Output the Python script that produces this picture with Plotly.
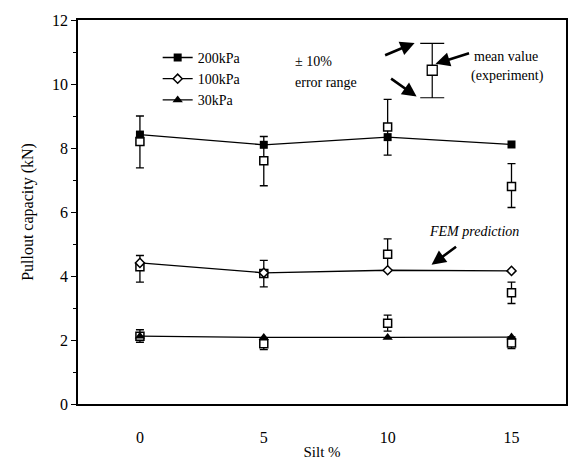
import plotly.graph_objects as go

# ---------------- data ----------------
silt = [0, 5, 10, 15]

fem_200 = [8.42, 8.10, 8.34, 8.11]
fem_100 = [4.41, 4.10, 4.18, 4.16]
fem_30 = [2.12, 2.08, 2.08, 2.09]

exp_200 = [8.20, 7.60, 8.66, 6.80]
exp_200_hi = [9.00, 8.36, 9.52, 7.51]
exp_200_lo = [7.38, 6.82, 7.78, 6.14]

exp_100 = [4.29, 4.08, 4.68, 3.48]
exp_100_hi = [4.64, 4.49, 5.16, 3.81]
exp_100_lo = [3.81, 3.66, 4.20, 3.14]

exp_30 = [2.12, 1.88, 2.52, 1.91]
exp_30_hi = [2.32, 2.04, 2.78, 2.10]
exp_30_lo = [1.93, 1.70, 2.28, 1.73]

# illustrative error bar (explanation of the symbols)
demo_x = [11.8]
demo_y = [10.43]
demo_hi = [11.27]
demo_lo = [9.57]

series_names = ["200kPa", "100kPa", "30kPa"]

FONT = "Liberation Serif, Times New Roman, Times, serif"

fig = go.Figure()

# experiments (open squares with error bars)
for ys, hi, lo in [(exp_200, exp_200_hi, exp_200_lo),
                   (exp_100, exp_100_hi, exp_100_lo),
                   (exp_30, exp_30_hi, exp_30_lo)]:
    fig.add_trace(go.Scatter(
        x=silt, y=ys, mode="markers", showlegend=False,
        marker=dict(symbol="square", size=8, color="white",
                    line=dict(color="black", width=1.5)),
        error_y=dict(type="data", symmetric=False,
                     array=[h - v for h, v in zip(hi, ys)],
                     arrayminus=[v - l for v, l in zip(ys, lo)],
                     color="black", thickness=1.3, width=4),
    ))

# demo error bar
fig.add_trace(go.Scatter(
    x=demo_x, y=demo_y, mode="markers", showlegend=False,
    marker=dict(symbol="square", size=10, color="white",
                line=dict(color="black", width=1.3)),
    error_y=dict(type="data", symmetric=False,
                 array=[demo_hi[0] - demo_y[0]],
                 arrayminus=[demo_y[0] - demo_lo[0]],
                 color="black", thickness=1.2, width=12),
))

# FEM predictions
fig.add_trace(go.Scatter(
    x=silt, y=fem_200, mode="lines+markers", name=series_names[0],
    line=dict(color="black", width=1.3),
    marker=dict(symbol="square", size=8, color="black")))
fig.add_trace(go.Scatter(
    x=silt, y=fem_100, mode="lines+markers", name=series_names[1],
    line=dict(color="black", width=1.3),
    marker=dict(symbol="diamond", size=7, color="white",
                line=dict(color="black", width=1.5))))
fig.add_trace(go.Scatter(
    x=silt, y=fem_30, mode="lines+markers", name=series_names[2],
    line=dict(color="black", width=1.3),
    marker=dict(symbol="triangle-up", size=9, color="black")))

# ---------------- layout ----------------
L, R, T, B = 78, 4, 20, 56
W, H = 572, 462
PW, PH = W - L - R, H - T - B


def px(xp):
    return (xp - L) / PW


def py(yp):
    return 1 - (yp - T) / PH


annotations = []


def text(xp, yp, s, italic=False, size=13):
    annotations.append(dict(
        x=px(xp), y=py(yp), xref="paper", yref="paper", text=s,
        showarrow=False, xanchor="left", yanchor="middle",
        font=dict(family=FONT, size=size, color="black",
                  style="italic" if italic else "normal")))


def arrow(x0, y0, x1, y1):
    annotations.append(dict(
        x=px(x1), y=py(y1), xref="paper", yref="paper",
        ax=x0 - x1, ay=y0 - y1, axref="pixel", ayref="pixel",
        text="", showarrow=True, arrowhead=2, arrowsize=1.1,
        arrowwidth=2.6, arrowcolor="black"))


text(294, 62, "± 10%", size=14)
text(294, 83, "error range", size=14)
text(474, 57, "mean value", size=14)
text(471, 76, "(experiment)", size=14)
text(428, 233, "FEM prediction", italic=True, size=14)

arrow(385, 56, 416, 43)
arrow(391, 78, 418, 97)
arrow(472, 53, 437, 64)
arrow(459, 247, 433, 266)

fig.update_layout(
    width=W, height=H,
    margin=dict(l=L, r=R, t=T, b=B),
    paper_bgcolor="white", plot_bgcolor="white",
    font=dict(family=FONT, size=14, color="black"),
    annotations=annotations,
    legend=dict(x=px(158), y=py(42), xanchor="left", yanchor="top",
                bgcolor="rgba(0,0,0,0)", font=dict(family=FONT, size=14),
                tracegroupgap=0, itemwidth=30),
    xaxis=dict(range=[-2.5, 17.2], tickvals=silt, ticks="",
               showgrid=False, zeroline=False, showline=True,
               linecolor="black", linewidth=1.5, mirror=True,
               ticklabelstandoff=18,
               tickfont=dict(family=FONT, size=16),
               title=dict(text="Silt %", standoff=2,
                          font=dict(family=FONT, size=15))),
    yaxis=dict(range=[0, 12], dtick=2, ticks="outside", ticklen=5,
               tickcolor="black", tickwidth=1,
               minor=dict(dtick=1, ticks="outside", ticklen=3,
                          tickcolor="black"),
               showgrid=False, zeroline=False, showline=True,
               linecolor="black", linewidth=1.5, mirror=True,
               tickfont=dict(family=FONT, size=16),
               title=dict(text="Pullout capacity (kN)", standoff=14,
                          font=dict(family=FONT, size=16))),
)

fig.write_html("out.html",
               config={"displayModeBar": False},
               post_script="document.body.style.margin='0';"
                           "document.body.style.overflow='hidden';"
                           "document.documentElement.style.overflow='hidden';")
